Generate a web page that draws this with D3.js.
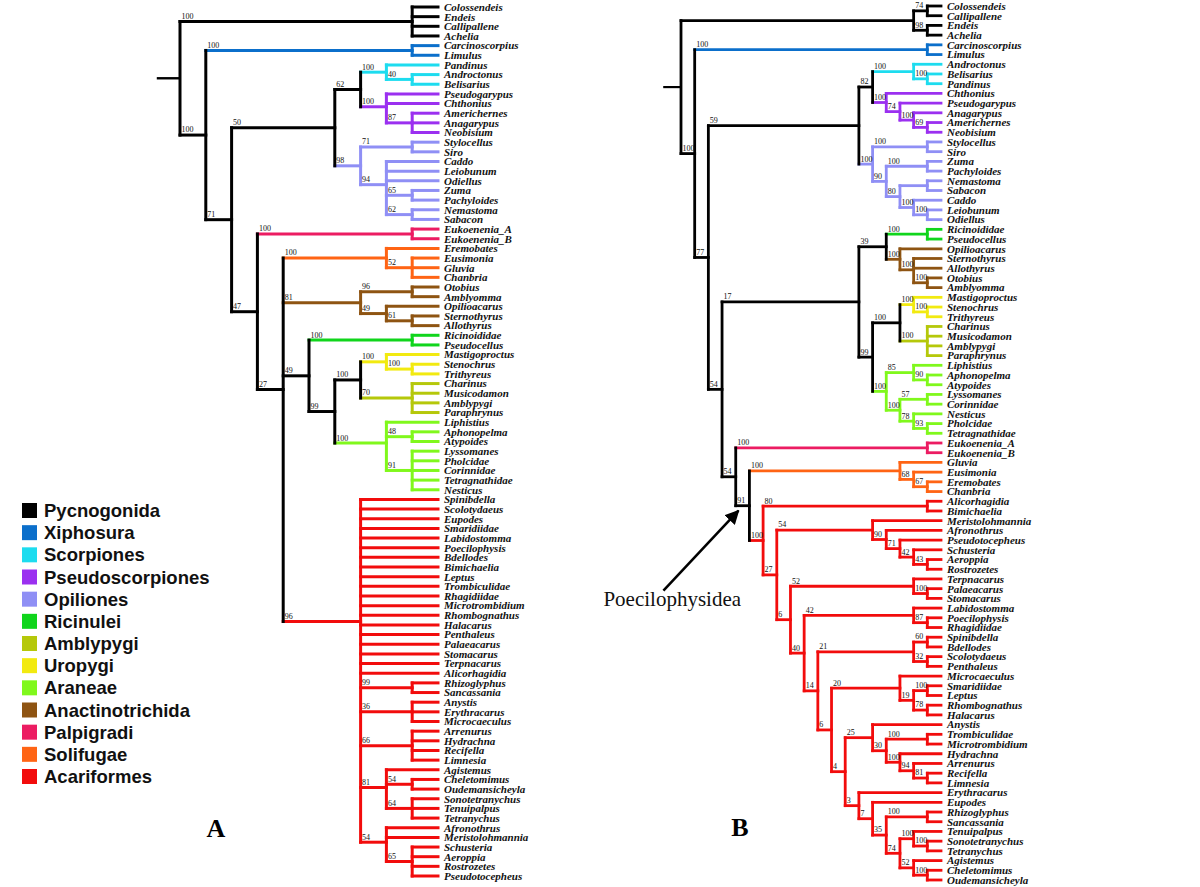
<!DOCTYPE html>
<html>
<head>
<meta charset="utf-8">
<script src="https://cdn.jsdelivr.net/npm/d3@7"></script>
<style>
  html, body { margin: 0; padding: 0; background: #fff; }
  svg { display: block; }
</style>
</head>
<body>
<svg id="chart" width="1200" height="887"></svg>
<script>
// ---------------- DATA ----------------
const groupNames = ["Pycnogonida","Xiphosura","Scorpiones","Pseudoscorpiones","Opiliones","Ricinulei",
  "Amblypygi","Uropygi","Araneae","Anactinotrichida","Palpigradi","Solifugae","Acariformes"];
const groupColors = ["#000000","#0b6fcb","#1ddcef","#9b30f0","#8f8ff5","#10d51c",
  "#b5c80a","#f2ea10","#80f81c","#8e5412","#ec1c62","#ff6414","#f20c0c"];

const pycnogonida = ["Colossendeis","Endeis","Callipallene","Achelia"];
const xiphosura = ["Carcinoscorpius","Limulus"];
const scorpiones = ["Pandinus","Androctonus","Belisarius"];
const pseudoscorpiones = ["Pseudogarypus","Chthonius","Americhernes","Anagarypus","Neobisium"];
const opiliones = ["Stylocellus","Siro","Caddo","Leiobunum","Odiellus","Zuma","Pachyloides","Nemastoma","Sabacon"];
const ricinulei = ["Ricinoididae","Pseudocellus"];
const amblypygi = ["Charinus","Musicodamon","Amblypygi","Paraphrynus"];
const uropygi = ["Mastigoproctus","Stenochrus","Trithyreus"];
const araneae = ["Liphistius","Aphonopelma","Atypoides","Lyssomanes","Pholcidae","Corinnidae","Tetragnathidae","Nesticus"];
const anactinotrichida = ["Otobius","Amblyomma","Opilioacarus","Sternothyrus","Allothyrus"];
const palpigradi = ["Eukoenenia_A","Eukoenenia_B"];
const solifugae = ["Eremobates","Eusimonia","Gluvia","Chanbria"];
const acariformes = ["Spinibdella","Scolotydaeus","Eupodes","Smaridiidae","Labidostomma","Poecilophysis","Bdellodes",
  "Bimichaelia","Leptus","Trombiculidae","Rhagidiidae","Microtrombidium","Rhombognathus","Halacarus","Penthaleus",
  "Palaeacarus","Stomacarus","Terpnacarus","Alicorhagidia","Rhizoglyphus","Sancassania","Anystis","Erythracarus",
  "Microcaeculus","Arrenurus","Hydrachna","Recifella","Limnesia","Agistemus","Cheletomimus","Oudemansicheyla",
  "Sonotetranychus","Tenuipalpus","Tetranychus","Afronothrus","Meristolohmannia","Schusteria","Aeroppia",
  "Rostrozetes","Pseudotocepheus"];
const groupTaxa = [pycnogonida, xiphosura, scorpiones, pseudoscorpiones, opiliones, ricinulei,
  amblypygi, uropygi, araneae, anactinotrichida, palpigradi, solifugae, acariformes];

// Tree A pieces (Newick topology with bootstrap supports)
const aPyc = "(Colossendeis,Endeis,Callipallene,Achelia)100";
const aN62 = "((Pandinus,(Androctonus,Belisarius)40)100,(Pseudogarypus,Chthonius,(Americhernes,Anagarypus,Neobisium)87)100)62";
const aN98 = "((Stylocellus,Siro)71,(Caddo,Leiobunum,Odiellus,(Zuma,Pachyloides)65,(Nemastoma,Sabacon)62)94)98";
const aN50 = `(${aN62},${aN98})50`;
const aSol = "(Eremobates,(Eusimonia,Gluvia,Chanbria)52)100";
const aAna = "((Otobius,Amblyomma)96,(Opilioacarus,(Sternothyrus,Allothyrus)61)49)81";
const aN49 = "((Ricinoididae,Pseudocellus)100,(((Mastigoproctus,(Stenochrus,Trithyreus)100)100,(Charinus,Musicodamon,Amblypygi,Paraphrynus)70)100,(Liphistius,(Aphonopelma,Atypoides)48,(Lyssomanes,Pholcidae,Corinnidae,Tetragnathidae,Nesticus)91)100)99)49";
const aAcari = "(Spinibdella,Scolotydaeus,Eupodes,Smaridiidae,Labidostomma,Poecilophysis,Bdellodes,Bimichaelia,Leptus,Trombiculidae,Rhagidiidae,Microtrombidium,Rhombognathus,Halacarus,Penthaleus,Palaeacarus,Stomacarus,Terpnacarus,Alicorhagidia,(Rhizoglyphus,Sancassania)99,(Anystis,Erythracarus,Microcaeculus)36,(Arrenurus,Hydrachna,Recifella,Limnesia)66,(Agistemus,(Cheletomimus,Oudemansicheyla)54,(Sonotetranychus,Tenuipalpus,Tetranychus)64)81,(Afronothrus,Meristolohmannia,(Schusteria,Aeroppia,Rostrozetes,Pseudotocepheus)65)54)96";
const aN27 = `(${aSol},${aAna},${aN49},${aAcari})27`;
const aN47 = `((Eukoenenia_A,Eukoenenia_B)100,${aN27})47`;
const aN71 = `(${aN50},${aN47})71`;
const treeA = `(${aPyc},((Carcinoscorpius,Limulus)100,${aN71})100)`;

// Tree B pieces
const bPyc = "((Colossendeis,Callipallene)74,(Endeis,Achelia)98)";
const bN82 = "((Androctonus,(Belisarius,Pandinus)100)100,(Chthonius,(Pseudogarypus,(Anagarypus,(Americhernes,Neobisium)69)100)74)100)82";
const bOpil = "((Stylocellus,Siro)100,((Zuma,Pachyloides)100,((Nemastoma,Sabacon),(Caddo,(Leiobunum,Odiellus)100)100)80)90)100";
const bN39 = "((Ricinoididae,Pseudocellus)100,(Opilioacarus,(Sternothyrus,Allothyrus,(Otobius,Amblyomma)100)100)100)39";
const bN99 = "(((Mastigoproctus,(Stenochrus,Trithyreus)100)100,(Charinus,Musicodamon,Amblypygi,Paraphrynus)100)100,((Liphistius,(Aphonopelma,Atypoides)90)85,((Lyssomanes,Corinnidae)57,(Nesticus,(Pholcidae,Tetragnathidae)93)78)100)100)99";
const bN3 = "(Erythracarus,(Eupodes,((Rhizoglyphus,Sancassania)100,((Tenuipalpus,(Sonotetranychus,Tetranychus)100)100,(Agistemus,(Cheletomimus,Oudemansicheyla)100)52)74)35)7)3";
const bN4 = `((Anystis,((Trombiculidae,Microtrombidium)100,(Hydrachna,(Arrenurus,(Recifella,Limnesia)81)94)100)30)25,${bN3})4`;
const bN6b = `((Microcaeculus,((Smaridiidae,Leptus)100,(Rhombognathus,Halacarus)78)19)20,${bN4})6`;
const bN14 = `(((Spinibdella,Bdellodes)60,(Scolotydaeus,Penthaleus)32)21,${bN6b})14`;
const bN40 = `((Labidostomma,(Poecilophysis,Rhagidiidae)87)42,${bN14})40`;
const bN6a = `((Terpnacarus,(Palaeacarus,Stomacarus)100)52,${bN40})6`;
const bN27 = `((Meristolohmannia,(Afronothrus,(Pseudotocepheus,(Schusteria,(Aeroppia,Rostrozetes)43)42)71)90)54,${bN6a})27`;
const bAcari = `((Alicorhagidia,Bimichaelia)80,${bN27})100`;
const bN91 = `((Gluvia,(Eusimonia,(Eremobates,Chanbria)67)68)100,${bAcari})91`;
const bN54b = `((Eukoenenia_A,Eukoenenia_B)100,${bN91})54`;
const bN17 = `(${bN39},${bN99})17`;
const bN54 = `(${bN17},${bN54b})54`;
const bN59 = `(${bN82},${bOpil})59`;
const bN77 = `(${bN59},${bN54})77`;
const treeB = `(${bPyc},((Carcinoscorpius,Limulus)100,${bN77})100)`;

const panelLabels = ["A","B"];
const annotationText = "Poecilophysidea";

// ---------------- HELPERS ----------------
function parseNewick(str) {
  const s = str.replace(/\s+/g, "").replace(/;$/, "");
  let i = 0;
  function node() {
    const n = {};
    if (s[i] === "(") {
      i++;
      n.children = [];
      do { n.children.push(node()); } while (s[i++] === ",");
    }
    let tok = "";
    while (i < s.length && !",)".includes(s[i])) tok += s[i++];
    if (n.children) n.support = tok; else n.name = tok;
    return n;
  }
  return node();
}

const leafGroup = new Map();
groupTaxa.forEach((arr, gi) => arr.forEach(t => leafGroup.set(t, gi)));

const svg = d3.select("#chart");

function drawTree(newick, opt) {
  const root = d3.hierarchy(parseNewick(newick));
  d3.cluster().nodeSize([1, 1]).separation(() => 1)(root);
  const leaves = root.leaves();
  const yScale = d3.scaleLinear().domain(d3.extent(leaves, d => d.x)).range(opt.yRange);
  const xScale = d3.scaleLinear().domain([0, root.height]).range(opt.xRange);

  // colour per node: group colour if all its leaves share a group, else black
  root.eachAfter(n => {
    if (!n.children) n.group = leafGroup.get(n.data.name);
    else {
      const g = n.children[0].group;
      n.group = n.children.every(c => c.group === g) ? g : -1;
    }
    n.color = n.group >= 0 ? groupColors[n.group] : "#000";
  });
  root.each(n => { n.px = xScale(n.y); n.py = yScale(n.x); });

  const g = svg.append("g");
  const sw = opt.strokeWidth;

  // horizontal branches
  g.selectAll("line.h").data(root.descendants().filter(n => n.parent))
    .join("line")
    .attr("x1", d => d.parent.px).attr("x2", d => d.px)
    .attr("y1", d => d.py).attr("y2", d => d.py)
    .attr("stroke", d => d.color).attr("stroke-width", sw)
    .attr("stroke-linecap", "square");

  // vertical connectors
  g.selectAll("line.v").data(root.descendants().filter(n => n.children))
    .join("line")
    .attr("x1", d => d.px).attr("x2", d => d.px)
    .attr("y1", d => d.children[0].py)
    .attr("y2", d => d.children[d.children.length - 1].py)
    .attr("stroke", d => d.color).attr("stroke-width", sw)
    .attr("stroke-linecap", "square");

  // root stub
  g.append("line")
    .attr("x1", xScale(opt.stub)).attr("x2", root.px)
    .attr("y1", root.py).attr("y2", root.py)
    .attr("stroke", "#000").attr("stroke-width", sw - 0.6);

  // support values
  g.selectAll("text.s").data(root.descendants().filter(n => n.parent && n.children && n.data.support))
    .join("text")
    .attr("x", d => d.parent.px + 1.5)
    .attr("y", d => d.py - 2.6)
    .attr("font-family", "'Liberation Serif', 'Times New Roman', serif")
    .attr("font-size", 8)
    .attr("fill", "#111")
    .text(d => d.data.support);

  // leaf names
  g.selectAll("text.l").data(leaves)
    .join("text")
    .attr("x", d => d.px + 6)
    .attr("y", d => d.py)
    .attr("dy", "0.35em")
    .attr("font-family", "'Liberation Serif', 'Times New Roman', serif")
    .attr("font-weight", "bold")
    .attr("font-style", "italic")
    .attr("font-size", 11)
    .attr("fill", "#111")
    .text(d => d.data.name);

  return root;
}

const rootA = drawTree(treeA, { xRange: [180, 438], yRange: [7, 876], stub: -0.9, strokeWidth: 3 });
const rootB = drawTree(treeB, { xRange: [681, 941], yRange: [6, 880], stub: -1.3, strokeWidth: 2.8 });

// ---------------- LEGEND ----------------
const legendY = d3.scaleLinear().domain([0, groupNames.length - 1]).range([510.5, 776.5]);
const leg = svg.append("g");
leg.selectAll("rect").data(groupNames).join("rect")
  .attr("x", 22).attr("y", (d, i) => legendY(i) - 7.5)
  .attr("width", 15).attr("height", 15)
  .attr("fill", (d, i) => groupColors[i]);
leg.selectAll("text").data(groupNames).join("text")
  .attr("x", 44).attr("y", (d, i) => legendY(i))
  .attr("dy", "0.36em")
  .attr("font-family", "'Liberation Sans', Arial, sans-serif")
  .attr("font-weight", "bold")
  .attr("font-size", 18.5)
  .attr("fill", "#111")
  .text(d => d);

// ---------------- PANEL LABELS ----------------
svg.append("text").attr("x", 216).attr("y", 837).attr("text-anchor", "middle")
  .attr("font-family", "'Liberation Serif', 'Times New Roman', serif")
  .attr("font-weight", "bold").attr("font-size", 26).text(panelLabels[0]);
svg.append("text").attr("x", 740).attr("y", 836).attr("text-anchor", "middle")
  .attr("font-family", "'Liberation Serif', 'Times New Roman', serif")
  .attr("font-weight", "bold").attr("font-size", 26).text(panelLabels[1]);

// ---------------- ANNOTATION (arrow to Poecilophysidea node) ----------------
const n91 = rootB.descendants().find(n => n.data.support === "91");
const tip = [n91.px - 11, n91.py + 5];
const tail = [n91.px - 86, n91.py + 85];
const defs = svg.append("defs");
defs.append("marker").attr("id", "arrowhead")
  .attr("viewBox", "0 0 10 10").attr("refX", 9).attr("refY", 5)
  .attr("markerWidth", 5.5).attr("markerHeight", 5.5)
  .attr("orient", "auto")
  .append("path").attr("d", "M0,0 L10,5 L0,10 Z").attr("fill", "#000");
svg.append("line")
  .attr("x1", tail[0]).attr("y1", tail[1]).attr("x2", tip[0]).attr("y2", tip[1])
  .attr("stroke", "#000").attr("stroke-width", 2.6)
  .attr("marker-end", "url(#arrowhead)");
svg.append("text")
  .attr("x", n91.px - 146).attr("y", n91.py + 100)
  .attr("font-family", "'Liberation Serif', 'Times New Roman', serif")
  .attr("font-size", 21).attr("fill", "#111")
  .text(annotationText);
</script>
</body>
</html>
